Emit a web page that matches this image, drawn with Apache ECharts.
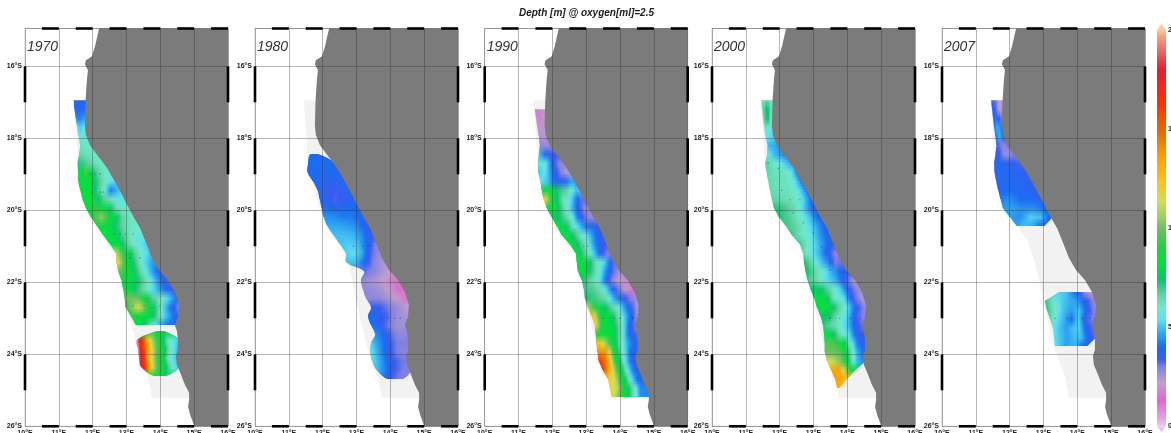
<!DOCTYPE html>
<html><head><meta charset="utf-8">
<style>html,body{margin:0;padding:0;background:#fff;overflow:hidden}#c{width:1171px;height:433px;filter:blur(0.4px)}</style>
<script src="https://cdn.jsdelivr.net/npm/echarts@6/dist/echarts.min.js"></script>
</head><body><div id="c"></div>
<script>
const years = ['1970','1980','1990','2000','2007'];
const lonTicks = [10,11,12,13,14,15,16];
const colorbarValues = [0,5,13,22,30,34,40,47,54,60,67,74,82,90,100,106,114,124,136,148,163,180,188,197,200];
const colorbarColors = ['#ecc8ec','#dda0dd','#e066d0','#c0a0cc','#8080e0','#3a5cf0','#1a6cf0','#30a8f0','#60e0f0','#70e8c8','#60d0a0','#10c070','#00e040','#20d040','#70c060','#a0d060','#d0e050','#ffc020','#ffa000','#e07000','#ff3000','#e02030','#e06060','#ffa080','#ffc8a0'];
const coastline = [[12.19,-14.95],[12.13,-15.19],[12.07,-15.44],[11.98,-15.72],[11.80,-15.83],[11.77,-15.94],[11.86,-16.10],[11.83,-16.38],[11.79,-16.94],[11.77,-17.63],[11.80,-17.91],[11.92,-18.19],[12.13,-18.46],[12.42,-18.82],[12.63,-19.16],[12.87,-19.57],[13.02,-19.85],[13.22,-20.21],[13.40,-20.49],[13.58,-20.91],[13.75,-21.32],[13.96,-21.66],[14.23,-21.94],[14.43,-22.27],[14.55,-22.63],[14.52,-22.96],[14.43,-23.19],[14.49,-23.35],[14.52,-23.60],[14.52,-23.88],[14.46,-24.05],[14.49,-24.30],[14.58,-24.49],[14.73,-24.85],[14.85,-25.07],[14.85,-25.27],[14.82,-25.46],[14.88,-25.68],[14.97,-25.90],[15.0,-26.0],[16,-26],[16,-14.95]];
const coverage = [[11.44,-16.94],[12.0,-16.94],[12.0,-18.0],[13.0,-19.7],[14.0,-21.5],[14.7,-22.8],[14.7,-24.3],[15.0,-25.0],[15.0,-25.21],[13.75,-25.21],[13.64,-24.63],[13.31,-23.8],[13.0,-22.57],[12.89,-21.99],[12.70,-21.30],[12.51,-20.82],[12.31,-20.55],[11.95,-20.07],[11.77,-19.44],[11.57,-18.80],[11.52,-17.99]];
const barsLon = [[10.5,11],[11.5,12],[12.5,13],[13.5,14],[14.5,15],[15.5,16]];
const barsLat = [[-17,-16],[-19,-18],[-21,-20],[-23,-22],[-25,-24]];

// each row: latitude, west lon, east lon, then depths read evenly across the row
const field1970a = [
[-16.94,11.44,11.79,38,38,38,38,38],[-17.19,11.46,11.79,38,38,38,38,40],[-17.44,11.50,11.79,45,42,43,45,47],[-17.69,11.54,11.79,55,52,52,55,55],
[-17.94,11.58,11.82,60,58,58,56,56],[-18.19,11.63,11.92,62,62,61,60,60],[-18.44,11.60,12.10,66,63,62,61,60],[-18.69,11.55,12.28,72,70,66,62,60],
[-18.94,11.57,12.51,78,95,72,62,58],[-19.19,11.57,12.66,82,86,72,60,52],[-19.44,11.63,12.84,84,82,65,42,52],[-19.69,11.70,12.96,84,82,68,58,54],
[-19.94,11.80,13.04,84,92,82,62,60],[-20.19,11.95,13.19,90,104,84,66,60],[-20.44,12.13,13.31,84,84,72,62,60],[-20.69,12.31,13.40,82,84,70,60,56],
[-20.94,12.51,13.55,84,82,66,58,52],[-21.19,12.69,13.70,110,90,70,58,50],[-21.44,12.70,13.78,124,88,72,54,45],[-21.69,12.75,13.99,100,84,68,50,35],
[-21.94,12.85,14.20,84,80,66,48,33],[-22.19,12.90,14.35,88,74,60,45,34],[-22.44,12.94,14.49,100,100,70,58,40],[-22.69,12.97,14.52,90,116,80,50,30],
[-22.94,13.13,14.46,90,84,76,52,38],[-23.19,13.28,14.23,84,76,62,46,40]];
const field1970b = [
[-23.35,13.90,14.11,84,82,78],[-23.60,13.31,14.46,195,165,135,110,95,82,66,58,52],[-23.85,13.34,14.52,195,165,135,110,95,82,66,56,48],
[-24.10,13.37,14.49,190,165,130,108,92,80,64,54,50],[-24.35,13.43,14.52,180,160,125,105,90,80,68,58,50],[-24.60,13.81,14.17,90,84,72]];
const field1980 = [
[-18.44,11.63,11.89,40,40,40,40,40],[-18.69,11.57,12.13,40,40,40,40,40],[-18.94,11.55,12.28,39,39,39,39,39],[-19.19,11.71,12.51,38,38,37,37,38],
[-19.44,11.85,12.66,37,36,34,35,37],[-19.69,11.91,12.84,38,36,33,36,38],[-19.94,11.97,12.99,41,40,38,40,40],[-20.19,12.03,13.13,45,44,42,42,38],
[-20.44,12.14,13.28,47,47,46,44,36],[-20.69,12.32,13.43,50,50,49,44,34],[-20.94,12.51,13.55,50,52,50,40,30],[-21.19,12.68,13.62,52,54,48,34,28],
[-21.44,12.70,13.74,50,50,40,30,25],[-21.69,13.22,13.93,32,30,28,25,22],[-21.94,13.13,14.14,28,26,24,20,15],[-22.19,13.19,14.32,28,27,25,20,12],
[-22.44,13.28,14.46,28,28,26,22,16],[-22.69,13.43,14.52,36,34,30,26,22],[-22.94,13.34,14.46,40,38,33,27,25],[-23.19,13.43,14.43,40,36,31,26,26],
[-23.44,13.55,14.48,44,40,32,28,28],[-23.69,13.43,14.48,52,44,35,30,30],[-23.94,13.40,14.48,56,46,36,30,28],[-24.19,13.46,14.52,54,46,36,32,30],
[-24.44,13.60,14.63,50,42,34,30,30],[-24.69,13.93,14.35,36,34,32,30,30]];
const field1990 = [
[-17.19,11.48,11.77,16,18,18,20,20],[-17.44,11.52,11.79,18,18,18,20,22],[-17.69,11.55,11.80,22,20,20,20,22],[-17.94,11.60,11.83,26,24,24,24,26],
[-18.19,11.63,11.91,30,28,27,27,27],[-18.44,11.60,12.07,50,44,36,34,34],[-18.69,11.57,12.22,55,60,48,34,28],[-18.94,11.58,12.39,50,55,42,32,24],
[-19.19,11.64,12.54,55,50,38,36,46],[-19.44,11.68,12.69,84,84,72,66,50],[-19.69,11.74,12.84,124,84,64,52,32],[-19.94,11.83,12.93,88,80,62,44,28],
[-20.19,11.98,13.10,80,72,60,36,28],[-20.44,12.13,13.25,84,76,56,42,36],[-20.69,12.28,13.37,84,78,62,50,36],[-20.94,12.51,13.49,86,74,60,44,34],
[-21.19,12.69,13.61,82,70,56,40,30],[-21.44,12.72,13.81,84,84,64,52,32],[-21.69,12.75,13.99,84,80,66,50,34,26],[-21.94,12.87,14.14,74,66,56,36,24,18],
[-22.19,12.93,14.35,70,68,60,38,26,14],[-22.44,12.96,14.46,74,70,64,45,34,26],[-22.69,13.04,14.52,110,84,72,58,40,25],[-22.94,13.16,14.52,128,88,80,62,44,26],
[-23.19,13.25,14.51,120,84,80,64,40,26],[-23.44,13.28,14.52,90,84,82,62,38,32],[-23.69,13.30,14.52,128,110,84,60,44,36],[-23.94,13.33,14.55,140,138,90,60,40,37],
[-24.19,13.37,14.61,165,140,90,58,36,32],[-24.44,13.49,14.67,160,125,88,58,38,38],[-24.69,13.64,14.73,120,112,84,58,40,40],[-24.94,13.70,14.82,118,110,82,65,44,42],
[-25.19,13.75,14.82,120,100,82,64,44,44]];
const field2000 = [
[-16.94,11.45,11.79,60,62,66,62,60],[-17.19,11.48,11.80,62,70,76,66,58],[-17.44,11.51,11.82,62,72,74,60,54],[-17.69,11.54,11.83,60,62,60,54,52],
[-17.94,11.58,11.86,55,54,54,52,52],[-18.19,11.64,11.98,50,48,48,46,46],[-18.44,11.63,12.13,58,52,48,46,42],[-18.69,11.57,12.34,68,62,58,52,46],
[-18.94,11.61,12.54,66,62,62,58,40],[-19.19,11.66,12.69,64,62,62,56,38],[-19.44,11.71,12.82,64,62,62,56,40],[-19.69,11.77,12.93,66,64,62,56,40],
[-19.94,11.83,13.04,72,70,64,50,36],[-20.19,11.98,13.19,72,68,60,50,36],[-20.44,12.19,13.34,70,66,58,48,38],[-20.69,12.36,13.43,70,62,56,46,38],
[-20.94,12.60,13.52,70,60,52,44,36],[-21.19,12.69,13.67,64,56,48,36,28],[-21.44,12.72,13.87,74,64,52,44,30,32],[-21.69,12.76,14.02,76,66,58,48,40,34],
[-21.94,12.82,14.20,70,64,54,48,36,24],[-22.19,12.91,14.37,76,76,64,52,34,26],[-22.44,13.02,14.46,82,84,62,54,34,24],[-22.69,13.10,14.57,80,84,70,56,36,26],
[-22.94,13.21,14.52,76,74,62,52,34,28],[-23.19,13.28,14.49,72,66,60,50,36,30],[-23.44,13.31,14.52,82,78,62,54,36,34],[-23.69,13.33,14.54,96,96,86,62,42,36],
[-23.94,13.33,14.52,100,100,96,70,48,38],[-24.19,13.40,14.49,118,110,100,72,50,42],[-24.44,13.52,14.23,135,135,100,80],[-24.69,13.64,13.99,138,132,125],[-24.94,13.70,13.75,130,130]];
const field2007a = [
[-16.94,11.45,11.76,32,33,30,22,24],[-17.19,11.48,11.77,34,36,30,20,25],[-17.44,11.51,11.79,36,42,38,32,30],[-17.69,11.54,11.80,38,48,46,44,38],
[-17.94,11.58,11.83,40,46,48,44,34],[-18.19,11.61,11.89,34,32,30,28,30],[-18.44,11.58,12.07,36,34,28,26,30],[-18.69,11.54,12.34,38,38,37,34,33],
[-18.94,11.55,12.54,38,38,38,38,36],[-19.19,11.60,12.66,38,38,38,38,36],[-19.44,11.66,12.81,39,40,38,38,36],[-19.69,11.73,12.93,42,44,40,40,37],
[-19.94,11.80,13.04,46,46,44,44,40],[-20.19,12.01,13.22,46,44,52,50,36],[-20.44,12.22,13.02,46,50,48,42,36]];
const field2007b = [
[-22.27,13.46,14.32,52,50,42,34,24],[-22.52,13.04,14.49,72,60,52,48,46,36,28],[-22.77,13.10,14.54,72,60,50,46,50,36,28],[-23.02,13.19,14.46,66,54,48,40,52,34,30],
[-23.27,13.28,14.45,56,50,46,50,52,38,32],[-23.52,13.31,14.52,54,50,46,50,50,38,32],[-23.77,13.34,14.29,54,50,46,48,48,40,36]];

const stations1970 = [[11.92,-18.99],[12.07,-18.99],[12.22,-18.99],[11.98,-19.49],[12.22,-19.49],[12.31,-19.49],[12.63,-20.66],[12.81,-20.66],[12.96,-20.66],[13.19,-20.66],[13.10,-21.32],[13.40,-21.32],[13.19,-22.66],[13.52,-22.66],[13.99,-22.66]];
const stations1980 = [[13.75,-23],[13.93,-23],[14.14,-23],[14.29,-23],[12.90,-20.99],[13.19,-20.99],[13.40,-20.99]];
const stations1990 = [[13.51,-23],[13.70,-23],[13.84,-23],[13.99,-23],[14.37,-23],[12.93,-20.99],[13.04,-20.99]];
const stations2000 = [[11.96,-18.83],[11.66,-18.69],[12.06,-19.44],[12.31,-19.71],[12.40,-20.07],[12.70,-20.35],[12.99,-20.63],[13.24,-21.02],[13.49,-21.66],[13.88,-21.72],[12.60,-19.71],[13.49,-23],[13.78,-23],[14.08,-23],[14.37,-23]];
const stations2007 = [[13.34,-23],[13.69,-23],[14.14,-23],[14.37,-23]];

const fields = [[field1970a,field1970b],[field1980],[field1990],[field2000],[field2007a,field2007b]];
const roundedFields = [field1970b,field1980];
const stations = [stations1970,stations1980,stations1990,stations2000,stations2007];
const panelLeft = [25,255,484.7,712,942];
const panelWidth = 203, panelTop = 28.5, panelHeight = 397.8;

function depthColor(v){
  const n = colorbarValues.length;
  if (v <= colorbarValues[0]) return hex(colorbarColors[0]);
  for (let i = 1; i < n; i++){
    if (v <= colorbarValues[i]){
      const t = (v-colorbarValues[i-1])/(colorbarValues[i]-colorbarValues[i-1]);
      const a = hex(colorbarColors[i-1]), b = hex(colorbarColors[i]);
      return [0,1,2].map(k => a[k]+(b[k]-a[k])*t);
    }
  }
  return hex(colorbarColors[n-1]);
}
function hex(h){ return [1,3,5].map(i => parseInt(h.substr(i,2),16)); }
function css(c){ return 'rgb('+c.map(Math.round).join(',')+')'; }

function rowFill(vals, xW, xE){
  const stops = [], m = 4, n = vals.length;
  for (let i = 0; i < n-1; i++){
    for (let j = 0; j < m; j++){
      const t = j/m;
      stops.push({offset:(i+t)/(n-1), color:css(depthColor(vals[i]+(vals[i+1]-vals[i])*t))});
    }
  }
  stops.push({offset:1, color:css(depthColor(vals[n-1]))});
  return new echarts.graphic.LinearGradient(xW,0,Math.max(xE,xW+1),0,stops,true);
}

// a row whose east end lies close to the shore is run under the land so no gap shows
function coastLonAt(lat){
  for (let i = 1; i < coastline.length; i++){
    const a = coastline[i-1], b = coastline[i];
    if (lat <= a[1] && lat >= b[1]) return a[0]+(b[0]-a[0])*(lat-a[1])/(b[1]-a[1]);
  }
  return 16;
}
function clipEast(r){
  const c = coastLonAt(r[0]);
  return Math.abs(r[2]-c) < 0.22 ? c+0.06 : r[2];
}

function renderField(panel){
  return function(params, api){
    const rows = fields[panel][params.dataIndex];
    const west = rows.map(r => api.coord([r[1],r[0]]));
    const east = rows.map(r => api.coord([r[2],r[0]]));
    const outerEast = rows.map(r => api.coord([clipEast(r),r[0]]));
    const points = west.concat(outerEast.slice().reverse());
    const children = [];
    const addRect = (x0,w,y0,y1,fill,opacity) => {
      if (y1 > y0) children.push({type:'rect',shape:{x:x0,y:y0,width:w,height:y1-y0},style:{fill:fill,opacity:opacity}});
    };
    rows.forEach((r,i) => {
      const xW = west[i][0], xE = east[i][0], y = Math.round(west[i][1]);
      const fill = rowFill(r.slice(3), xW, xE);
      const x0 = xW-70, w = xE-xW+140;
      if (i > 0){
        const py = Math.round(west[i-1][1]), h = y-py, n = Math.max(1,Math.round(h/1.5));
        for (let j = 0; j < n; j++){
          addRect(x0,w,py+Math.round(j*h/n),py+Math.round((j+1)*h/n),fill,(j+0.5)/n);
        }
      }
      const ny = i < rows.length-1 ? Math.round(west[i+1][1]) : y;
      addRect(x0,w,y,ny,fill,1);
    });
    const smooth = roundedFields.includes(rows) ? 0.35 : 0;
    return {type:'group',children:children,clipPath:{type:'polygon',shape:{points:points,smooth:smooth}}};
  };
}
function polygonSeries(panel, pts, color, z){
  return {type:'custom',coordinateSystem:'cartesian2d',xAxisIndex:panel,yAxisIndex:panel,z:z,silent:true,clip:false,
    data:[pts[0]],
    renderItem:(p,api)=>({type:'polygon',shape:{points:pts.map(q=>api.coord(q))},style:{fill:color}})};
}
function barSeries(panel){
  const segs = [];
  barsLon.forEach(b => { segs.push([b[0],-26,b[1],-26]); segs.push([b[0],-14.95,b[1],-14.95]); });
  barsLat.forEach(b => { segs.push([10,b[0],10,b[1]]); segs.push([16,b[0],16,b[1]]); });
  return {type:'custom',coordinateSystem:'cartesian2d',xAxisIndex:panel,yAxisIndex:panel,z:7,silent:true,clip:false,
    data:segs,
    renderItem:(p,api)=>{
      const a = api.coord([api.value(0),api.value(1)]), b = api.coord([api.value(2),api.value(3)]);
      return {type:'line',shape:{x1:a[0],y1:a[1],x2:b[0],y2:b[1]},style:{stroke:'#000',lineWidth:2.6}};
    }};
}

const grids=[], xAxes=[], yAxes=[], series=[], titles=[], graphics=[];
const gridLine = {show:true,lineStyle:{color:'rgba(40,40,40,0.34)',width:1}};
years.forEach((yr,i)=>{
  grids.push({left:panelLeft[i],top:panelTop,width:panelWidth,height:panelHeight,show:true,borderColor:'#cfcfcf',borderWidth:1,outerBoundsMode:'none'});
  xAxes.push({gridIndex:i,type:'value',min:lonTicks[0],max:lonTicks[lonTicks.length-1],interval:1,position:'bottom',z:5,
    axisLine:{show:false},axisTick:{show:false},splitLine:gridLine,
    axisLabel:{margin:3,fontSize:7,fontWeight:'bold',color:'#222',fontFamily:'Liberation Sans',hideOverlap:false,formatter:v=>v+'°E'}});
  yAxes.push({gridIndex:i,type:'value',min:-26,max:-14.95,interval:2,position:'left',z:5,
    axisLine:{show:false},axisTick:{show:false},splitLine:gridLine,
    axisLabel:{margin:3,fontSize:7,fontWeight:'bold',color:'#222',fontFamily:'Liberation Sans',hideOverlap:false,
      formatter:v=>Number.isInteger(v)?(-v)+'°S':''}});
  series.push(polygonSeries(i,coverage,'#f2f2f2',1));
  series.push({type:'custom',coordinateSystem:'cartesian2d',xAxisIndex:i,yAxisIndex:i,z:2,silent:true,clip:false,
    data:fields[i].map(f=>[f[0][1],f[0][0]]),renderItem:renderField(i)});
  series.push(polygonSeries(i,coastline,'#7b7b7b',3));
  series.push({type:'scatter',xAxisIndex:i,yAxisIndex:i,z:4,silent:true,symbolSize:1.5,data:stations[i],itemStyle:{color:'rgba(0,0,0,0.4)'}});
  series.push(barSeries(i));
  titles.push({text:yr,left:panelLeft[i]+2,top:40,textStyle:{fontSize:14,fontStyle:'italic',fontWeight:'normal',color:'#333',fontFamily:'Liberation Sans'},padding:0});
  graphics.push({type:'text',x:panelLeft[i]+204,y:425,rotation:Math.PI/2,silent:true,
    style:{text:'Ocean Data View',font:'bold 5.6px "Liberation Sans"',fill:'#222',textAlign:'left',textVerticalAlign:'bottom'}});
});
titles.push({text:'Depth [m] @ oxygen[ml]=2.5',left:586.5,top:8,textAlign:'center',padding:0,
  textStyle:{fontSize:10,fontStyle:'italic',fontWeight:'bold',color:'#222',fontFamily:'Liberation Sans'}});

// colour bar
const cb = years.length;
grids.push({left:1157,top:30,width:9,height:396.3,outerBoundsMode:'none'});
xAxes.push({gridIndex:cb,type:'value',min:0,max:1,show:false});
yAxes.push({gridIndex:cb,type:'value',min:0,max:200,interval:50,position:'right',z:5,
  axisLine:{show:false},axisTick:{show:false},splitLine:{show:false},
  axisLabel:{margin:2,fontSize:7,fontWeight:'bold',color:'#222',fontFamily:'Liberation Sans'}});
series.push({type:'custom',coordinateSystem:'cartesian2d',xAxisIndex:cb,yAxisIndex:cb,z:3,silent:true,clip:false,
  data:[[0,0]],
  renderItem:(p,api)=>{
    const a = api.coord([0,200]), b = api.coord([1,0]);
    const stops = colorbarValues.map((v,i)=>({offset:v/200,color:colorbarColors[i]}));
    const top = api.coord([0.5,203]), bot = api.coord([0.5,-3]);
    return {type:'group',children:[
      {type:'rect',shape:{x:a[0],y:a[1],width:b[0]-a[0],height:b[1]-a[1]},
       style:{fill:new echarts.graphic.LinearGradient(0,b[1],0,a[1],stops,true)}},
      {type:'polygon',shape:{points:[[a[0],a[1]],top,[b[0],a[1]]]},style:{fill:colorbarColors[colorbarColors.length-1]}},
      {type:'polygon',shape:{points:[[a[0],b[1]],bot,[b[0],b[1]]]},style:{fill:colorbarColors[0]}}
    ]};
  }});

const chart = echarts.init(document.getElementById('c'),null,{renderer:'canvas',width:1171,height:433});
chart.setOption({animation:false,backgroundColor:'#fff',title:titles,grid:grids,xAxis:xAxes,yAxis:yAxes,series:series,graphic:graphics});
</script></body></html>
